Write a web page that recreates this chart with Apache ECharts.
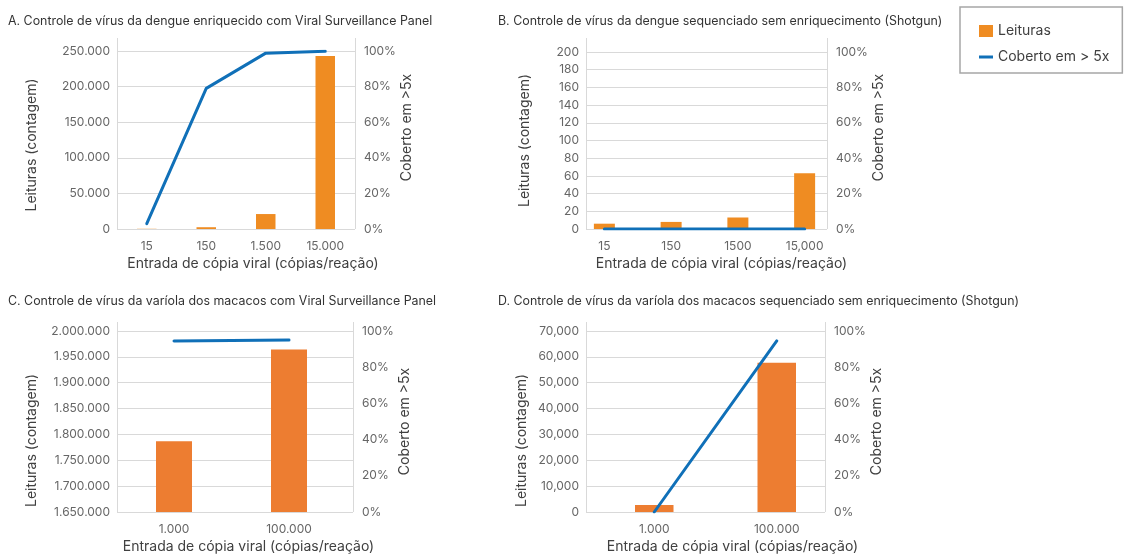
<!DOCTYPE html>
<html>
<head>
<meta charset="utf-8">
<script src="https://cdn.jsdelivr.net/npm/echarts@6/dist/echarts.min.js"></script>
<style>
  html, body { margin: 0; padding: 0; background: #ffffff; }
  #chart { width: 1128px; height: 556px; }
</style>
</head>
<body>
<div id="chart"></div>
<script>
// ---- Data -------------------------------------------------------------
// A. Dengue, enriched with Viral Surveillance Panel
const categoriesA = ['15', '150', '1.500', '15.000'];
const leiturasA = [300, 2500, 21000, 243000];
const cobertoA = [3, 79, 98.8, 99.8];
const ticksA = { min: 0, max: 250000, interval: 50000 };

// B. Dengue, shotgun
const categoriesB = ['15', '150', '1500', '15,000'];
const leiturasB = [6, 8, 13, 63];
const cobertoB = [0, 0, 0, 0];
const ticksB = { min: 0, max: 200, interval: 20 };

// C. Mpox, enriched with Viral Surveillance Panel
const categoriesC = ['1.000', '100.000'];
const leiturasC = [1787000, 1964000];
const cobertoC = [94.5, 95.0];
const ticksC = { min: 1650000, max: 2000000, interval: 50000 };

// D. Mpox, shotgun
const categoriesD = ['1.000', '100.000'];
const leiturasD = [2700, 57700];
const cobertoD = [0, 94.5];
const ticksD = { min: 0, max: 70000, interval: 10000 };

const ticksPct = { min: 0, max: 100, interval: 20 };

const titles = [
  'A. Controle de vírus da dengue enriquecido com Viral Surveillance Panel',
  'B. Controle de vírus da dengue sequenciado sem enriquecimento (Shotgun)',
  'C. Controle de vírus da varíola dos macacos com Viral Surveillance Panel',
  'D. Controle de vírus da varíola dos macacos sequenciado sem enriquecimento (Shotgun)'
];
const nameReads = 'Leituras';
const nameCover = 'Coberto em > 5x';
const axisNameLeft = 'Leituras (contagem)';
const axisNameRight = 'Coberto em >5x';
const axisNameX = 'Entrada de cópia viral (cópias/reação)';

// ---- Styling ----------------------------------------------------------
const FONT = 'Inter, "Noto Sans", sans-serif';
const BLUE = '#1070b8';
const GRID_COLOR = '#d9d9d9';
const LABEL_COLOR = '#666666';
const NAME_COLOR = '#404040';

const dotFmt = v => String(v).replace(/\B(?=(\d{3})+(?!\d))/g, '.');
const commaFmt = v => String(v).replace(/\B(?=(\d{3})+(?!\d))/g, ',');
const plainFmt = v => String(v);
const pctFmt = v => v + '%';

// frame: gridline extent; band: category extent
const panels = [
  { cats: categoriesA, reads: leiturasA, cover: cobertoA, ticks: ticksA, fmt: dotFmt,
    barColor: '#ef8c22', frame: [117, 355], band: [117, 355], top: 51, bottom: 229, lineTop: 38,
    barWidth: 19.5, titlePos: [8, 15], leftGap: 78, rightGap: 42, leftShift: 5, rightShift: -12.5 },
  { cats: categoriesB, reads: leiturasB, cover: cobertoB, ticks: ticksB, fmt: plainFmt,
    barColor: '#ef8c22', frame: [586, 827], band: [571, 838], top: 52, bottom: 229, lineTop: 38,
    barWidth: 21, titlePos: [498, 15], leftGap: 54, rightGap: 43, leftShift: 0, rightShift: -13 },
  { cats: categoriesC, reads: leiturasC, cover: cobertoC, ticks: ticksC, fmt: dotFmt,
    barColor: '#ed7d31', frame: [117, 353], band: [116.5, 346.5], top: 331, bottom: 512, lineTop: 322,
    barWidth: 36, titlePos: [8, 295], leftGap: 78, rightGap: 41, leftShift: 19, rightShift: 0 },
  { cats: categoriesD, reads: leiturasD, cover: cobertoD, ticks: ticksD, fmt: commaFmt,
    barColor: '#ed7d31', frame: [586, 825], band: [593, 838], top: 331, bottom: 512, lineTop: 322,
    barWidth: 38.5, titlePos: [498, 295], leftGap: 57, rightGap: 45, leftShift: 19, rightShift: 0 }
];

const grid = [], xAxis = [], yAxis = [], series = [], title = [], graphic = [];

// shift a rotated (bottom-to-top) axis name along the axis by padding
function shiftPad(d) {
  return d >= 0 ? [0, 2 * d, 0, 0] : [0, 0, 0, -2 * d];
}

panels.forEach((p, i) => {
  // frame grid: gridlines + visible y axes
  grid.push({ left: p.frame[0], width: p.frame[1] - p.frame[0], top: p.top, height: p.bottom - p.top });
  // plot grid: categories, bars and line
  grid.push({ left: p.band[0], width: p.band[1] - p.band[0], top: p.top, height: p.bottom - p.top });

  xAxis.push({ gridIndex: 2 * i, type: 'value', show: false, min: 0, max: 1 });
  xAxis.push({
    gridIndex: 2 * i + 1, type: 'category', data: p.cats,
    axisLine: { show: false }, axisTick: { show: false },
    axisLabel: { color: LABEL_COLOR, fontSize: 12, fontFamily: FONT, margin: 11 },
    name: axisNameX, nameLocation: 'middle', nameGap: 28,
    nameTextStyle: { color: NAME_COLOR, fontSize: 14, fontFamily: FONT, padding: [0, 0, 0, 34] }
  });

  // frame left (reads)
  yAxis.push({
    gridIndex: 2 * i, type: 'value', position: 'left',
    min: p.ticks.min, max: p.ticks.max, interval: p.ticks.interval,
    axisLine: { show: false }, axisTick: { show: false },
    splitLine: { show: true, lineStyle: { color: GRID_COLOR, width: 1 } },
    axisLabel: { color: LABEL_COLOR, fontSize: 12, fontFamily: FONT, margin: 7, formatter: p.fmt },
    name: axisNameLeft, nameLocation: 'middle', nameGap: p.leftGap,
    nameTextStyle: { color: NAME_COLOR, fontSize: 14, fontFamily: FONT, padding: shiftPad(p.leftShift) }
  });
  // frame right (coverage %)
  yAxis.push({
    gridIndex: 2 * i, type: 'value', position: 'right',
    min: ticksPct.min, max: ticksPct.max, interval: ticksPct.interval,
    axisLine: { show: false }, axisTick: { show: false }, splitLine: { show: false },
    axisLabel: { color: LABEL_COLOR, fontSize: 12, fontFamily: FONT, margin: 9, formatter: pctFmt },
    name: axisNameRight, nameLocation: 'middle', nameGap: p.rightGap,
    nameTextStyle: { color: NAME_COLOR, fontSize: 14, fontFamily: FONT, padding: shiftPad(p.rightShift) }
  });
  // plot axes share the same scales, hidden
  yAxis.push({ gridIndex: 2 * i + 1, type: 'value', show: false,
    min: p.ticks.min, max: p.ticks.max, interval: p.ticks.interval, splitLine: { show: false } });
  yAxis.push({ gridIndex: 2 * i + 1, type: 'value', show: false,
    min: ticksPct.min, max: ticksPct.max, interval: ticksPct.interval, splitLine: { show: false } });

  series.push({
    name: nameReads, type: 'bar', xAxisIndex: 2 * i + 1, yAxisIndex: 4 * i + 2,
    data: p.reads, barWidth: p.barWidth, itemStyle: { color: p.barColor }, z: 2
  });
  series.push({
    name: nameCover, type: 'line', xAxisIndex: 2 * i + 1, yAxisIndex: 4 * i + 3,
    data: p.cover, symbol: 'none', z: 3,
    lineStyle: { color: BLUE, width: 3, cap: 'round', join: 'round' },
    itemStyle: { color: BLUE }
  });

  title.push({
    text: titles[i], left: p.titlePos[0], top: p.titlePos[1], padding: 0,
    textStyle: { fontSize: 12.4, fontWeight: 'normal', color: '#333333', fontFamily: FONT }
  });

  // vertical frame lines, rising a little above the top gridline
  [p.frame[0], p.frame[1]].forEach(x => {
    const cx = Math.round(x) + 0.5;
    graphic.push({ type: 'line', silent: true, z: 0,
      shape: { x1: cx, y1: p.lineTop, x2: cx, y2: p.bottom },
      style: { stroke: GRID_COLOR, lineWidth: 1 } });
  });
});

const chart = echarts.init(document.getElementById('chart'), null, { renderer: 'canvas' });
chart.setOption({
  animation: false,
  backgroundColor: '#ffffff',
  textStyle: { fontFamily: FONT },
  title,
  grid,
  xAxis,
  yAxis,
  series,
  graphic,
  legend: {
    orient: 'vertical', left: 960, top: 7,
    padding: [16, 13, 8, 19], itemGap: 10,
    itemWidth: 14, itemHeight: 12,
    borderColor: '#a6a6a6', borderWidth: 1.5,
    textStyle: { fontSize: 14, color: '#404040', fontFamily: FONT, lineHeight: 16 },
    data: [
      { name: nameReads, icon: 'rect' },
      { name: nameCover, icon: 'path://M0,0H14V3H0Z', itemStyle: { color: BLUE } }
    ]
  }
});
</script>
</body>
</html>
